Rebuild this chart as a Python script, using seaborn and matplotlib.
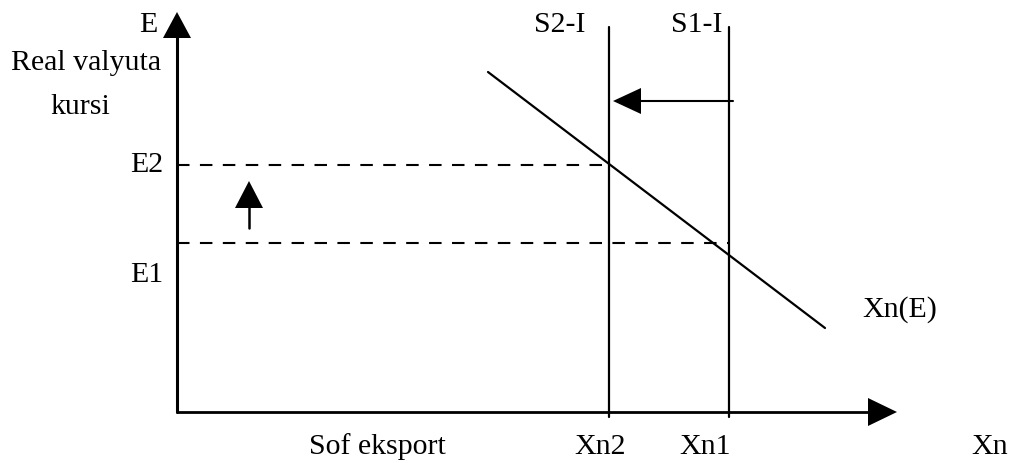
import matplotlib
matplotlib.use("Agg")
import matplotlib.pyplot as plt
import seaborn as sns
import pandas as pd

# ---- data (in diagram units: 1 unit ~ 1 px, origin at axis corner) ----
xn_levels = [432, 552]                 # Xn2, Xn1
xn_labels = ["Xn2", "Xn1"]
supply_labels = ["S2-I", "S1-I"]
e_levels = [247, 169]                  # E2, E1 (dashed lines)
e_dash_ends = [432, 552]               # dashed lines run to S2-I and S1-I
e_labels = ["E2", "E1"]
demand_x = [311, 648]                  # Xn(E) line
demand_y = [340, 84]
supply_bottom, supply_top = -5, 385
axis_x_end, axis_y_end = 720, 400
shift_y = 311                          # horizontal shift arrow S1 -> S2
shift_from, shift_to = 556, 436
up_x = 72                              # upward arrow (exchange rate rises)
up_from, up_to = 184, 231

sns.set_theme(style="white")
plt.rcParams["font.family"] = ["Liberation Serif", "DejaVu Serif"]
plt.rcParams["text.color"] = "black"

fig = plt.figure(figsize=(10.09, 4.63), dpi=100)
ax = fig.add_axes([0, 0, 1, 1])
ax.set_xlim(-177, 832)
ax.set_ylim(-51, 412)
ax.axis("off")

FS = 21.5
K = "black"

def head(ax, tip, direction, length, half):
    x, y = tip
    if direction == "up":
        pts = [(x, y), (x - half, y - length), (x + half, y - length)]
    elif direction == "right":
        pts = [(x, y), (x - length, y - half), (x - length, y + half)]
    else:  # left
        pts = [(x, y), (x + length, y - half), (x + length, y + half)]
    xs, ys = zip(*pts)
    ax.fill(xs, ys, color=K, lw=0)

def seg(xs, ys, lw, **kw):
    sns.lineplot(x=xs, y=ys, ax=ax, color=K, lw=lw, sort=False,
                 estimator=None, errorbar=None, **kw)

# axes
seg([0, 0], [0, axis_y_end - 20], 2.2)
head(ax, (0, axis_y_end), "up", 26, 14)
seg([0, axis_x_end - 20], [0, 0], 2.0)
head(ax, (axis_x_end, 0), "right", 29, 14)

# supply (vertical) lines
for xv in xn_levels:
    seg([xv, xv], [supply_bottom, supply_top], 1.6)

# demand line
df = pd.DataFrame({"x": demand_x, "y": demand_y})
sns.lineplot(data=df, x="x", y="y", ax=ax, color=K, lw=1.6, sort=False,
             estimator=None, errorbar=None)

# dashed exchange-rate levels
for ev, xe in zip(e_levels, e_dash_ends):
    ax.plot([0, xe], [ev, ev], color=K, lw=1.5, dashes=(6, 5))

# shift arrow
ax.plot([shift_from, shift_to + 20], [shift_y, shift_y], color=K, lw=1.5)
head(ax, (shift_to, shift_y), "left", 28, 13)

# up arrow
ax.plot([up_x, up_x], [up_from, up_to - 20], color=K, lw=1.8)
head(ax, (up_x, up_to), "up", 27, 14)

# texts
tk = dict(fontsize=FS, color=K)
ax.text(-20, 387, "E", ha="right", va="center", **tk)
ax.text(-91, 342, "Real valyuta", ha="center", va="baseline", **tk)
ax.text(-97, 298, "kursi", ha="center", va="baseline", **tk)
ax.text(-14, 247, e_labels[0], ha="right", va="center", **tk)
ax.text(-14, 137, e_labels[1], ha="right", va="center", **tk)
ax.text(408, 387, supply_labels[0], ha="right", va="center", **tk)
ax.text(545, 387, supply_labels[1], ha="right", va="center", **tk)
ax.text(685, 102, "Xn(E)", ha="left", va="center", **tk)
ax.text(xn_levels[0] - 9, -35, xn_labels[0], ha="center", va="center", **tk)
ax.text(xn_levels[1] - 24, -35, xn_labels[1], ha="center", va="center", **tk)
ax.text(813, -35, "Xn", ha="center", va="center", **tk)
ax.text(200, -35, "Sof eksport", ha="center", va="center", **tk)

fig.savefig("out.png", dpi=100, facecolor="white")
